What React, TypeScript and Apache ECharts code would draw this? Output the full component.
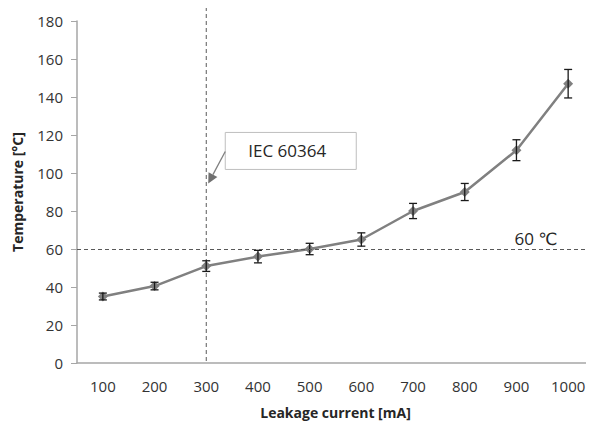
import React, { useEffect, useRef } from "react";
import * as echarts from "echarts";

const categories = ["100", "200", "300", "400", "500", "600", "700", "800", "900", "1000"];
const temperature = [35, 40.5, 51, 56, 60, 65, 80, 90, 112, 147];
const errors = [1.8, 2, 2.8, 3.3, 3, 3.5, 4, 4.5, 5.5, 7.5];
const yTicks = { min: 0, max: 180, interval: 20 };
const limitTemp = 60;
const limitLabel = "60 ℃";
const iecCategory = "300";
const iecLabel = "IEC 60364";

const FONT = "'Open Sans', 'DejaVu Sans', sans-serif";

export default function App() {
  const ref = useRef<HTMLDivElement>(null);
  useEffect(() => {
    if (!ref.current) return;
    const chart = echarts.init(ref.current, undefined, { renderer: "svg" });
    const errData = temperature.map((v, i) => [i, v - errors[i], v + errors[i]]);
    chart.setOption({
      animation: false,
      backgroundColor: "#fff",
      textStyle: { fontFamily: FONT },
      grid: { left: 77, top: 21, bottom: 61, right: -3 },
      xAxis: {
        type: "category",
        data: categories,
        boundaryGap: true,
        name: "Leakage current [mA]",
        nameLocation: "middle",
        nameGap: 42,
        nameTextStyle: { fontFamily: FONT, fontSize: 14, fontWeight: "bold", color: "#262626" },
        axisLine: { lineStyle: { color: "#a6a6a6", width: 1.5 } },
        axisTick: { show: false },
        axisLabel: { fontFamily: FONT, fontSize: 15, color: "#333", margin: 15 },
      },
      yAxis: {
        type: "value",
        min: yTicks.min,
        max: yTicks.max,
        interval: yTicks.interval,
        name: "Temperature [°C]",
        nameLocation: "middle",
        nameGap: 53,
        nameTextStyle: { fontFamily: FONT, fontSize: 14, fontWeight: "bold", color: "#262626" },
        axisLine: { show: true, lineStyle: { color: "#a6a6a6", width: 1.5 } },
        axisTick: { show: true, length: 6, lineStyle: { color: "#a6a6a6" } },
        splitLine: { show: false },
        axisLabel: { fontFamily: FONT, fontSize: 15, color: "#333", margin: 14 },
      },
      series: [
        {
          type: "line",
          data: temperature,
          symbol: "diamond",
          symbolSize: 10,
          itemStyle: { color: "#808080" },
          lineStyle: { color: "#808080", width: 2.5 },
          z: 3,
          markLine: {
            silent: true,
            symbol: "none",
            label: { show: false },
            lineStyle: { color: "#595959", type: [4, 3], width: 1 },
            data: [{ yAxis: limitTemp }],
          },
        },
        {
          type: "custom",
          data: errData,
          z: 4,
          renderItem: (params: any, api: any) => {
            const x = api.value(0);
            const lo = api.coord([x, api.value(1)]);
            const hi = api.coord([x, api.value(2)]);
            const hw = 4;
            const style = { stroke: "#1a1a1a", lineWidth: 1.3 };
            return {
              type: "group",
              children: [
                { type: "line", shape: { x1: lo[0], y1: lo[1], x2: hi[0], y2: hi[1] }, style },
                { type: "line", shape: { x1: lo[0] - hw, y1: lo[1], x2: lo[0] + hw, y2: lo[1] }, style },
                { type: "line", shape: { x1: hi[0] - hw, y1: hi[1], x2: hi[0] + hw, y2: hi[1] }, style },
              ],
            };
          },
        },
      ],
    });

    const bottom = chart.convertToPixel({ gridIndex: 0 }, [iecCategory, 0]) as number[];
    const tip = chart.convertToPixel({ gridIndex: 0 }, [iecCategory, 94.5]) as number[];
    const lim = chart.convertToPixel({ gridIndex: 0 }, [categories[categories.length - 2], limitTemp]) as number[];
    const vx = bottom[0];
    const boxX = vx + 19;
    const boxY = tip[1] - 51;
    const boxW = 131;
    const boxH = 37;
    const startX = boxX;
    const startY = boxY + 19;
    const ex = tip[0] + 2;
    const ey = tip[1];
    const dx = ex - startX;
    const dy = ey - startY;
    const len = Math.sqrt(dx * dx + dy * dy);
    const ux = dx / len;
    const uy = dy / len;
    const ah = 10;
    const aw = 5;
    const bx = ex - ux * ah;
    const by = ey - uy * ah;

    chart.setOption({
      graphic: [
        {
          type: "line",
          silent: true,
          shape: { x1: vx, y1: 7, x2: vx, y2: bottom[1] },
          style: { stroke: "#595959", lineWidth: 1, lineDash: [4, 3] },
          z: 1,
        },
        {
          type: "rect",
          shape: { x: boxX, y: boxY, width: boxW, height: boxH },
          style: { fill: "#fff", stroke: "#bfbfbf", lineWidth: 1 },
          z: 10,
        },
        {
          type: "text",
          x: boxX + 23,
          y: boxY + boxH / 2,
          style: { text: iecLabel, font: `17px ${FONT}`, fill: "#262626", verticalAlign: "middle" },
          z: 11,
        },
        {
          type: "line",
          shape: { x1: startX, y1: startY, x2: bx, y2: by },
          style: { stroke: "#808080", lineWidth: 1.3 },
          z: 10,
        },
        {
          type: "polygon",
          shape: {
            points: [
              [ex, ey],
              [bx - uy * aw, by + ux * aw],
              [bx + uy * aw, by - ux * aw],
            ],
          },
          style: { fill: "#707070" },
          z: 10,
        },
        {
          type: "text",
          x: lim[0] - 2,
          y: lim[1] - 2,
          style: { text: limitLabel, font: `17px ${FONT}`, fill: "#262626", verticalAlign: "bottom" },
          z: 10,
        },
      ],
    });
    return () => chart.dispose();
  }, []);
  return <div ref={ref} style={{ width: 594, height: 424, marginLeft: -8, marginTop: -8 }} />;
}
